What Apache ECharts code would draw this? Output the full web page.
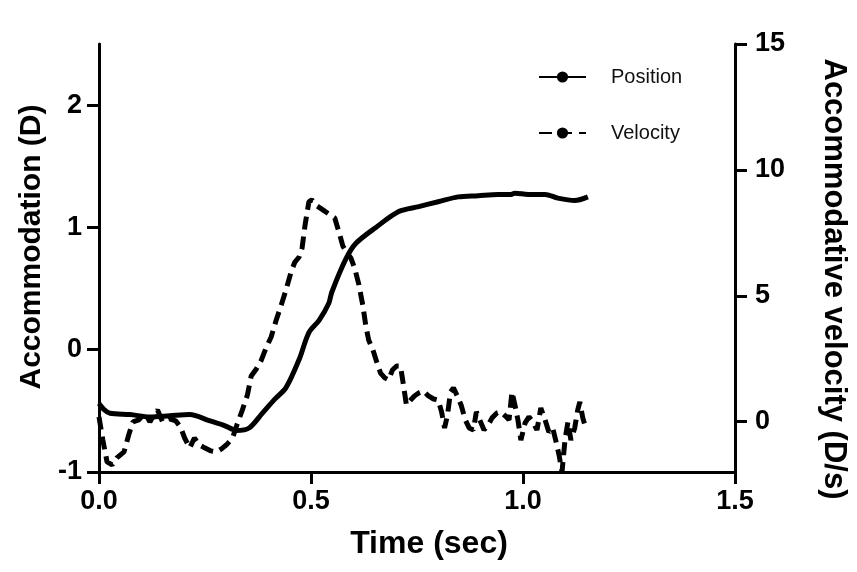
<!DOCTYPE html>
<html>
<head>
<meta charset="utf-8">
<script src="https://cdn.jsdelivr.net/npm/echarts@6/dist/echarts.min.js"></script>
<style>
html,body{margin:0;padding:0;background:#fff;}
#chart{width:857px;height:572px;}
</style>
</head>
<body>
<div id="chart"></div>
<script>
// ---- data ----
var posTime = [0, 0.012, 0.026, 0.073, 0.12, 0.167, 0.214, 0.26, 0.296, 0.324, 0.354, 0.385, 0.413, 0.441, 0.472, 0.495, 0.519, 0.542, 0.549, 0.582, 0.606, 0.653, 0.707, 0.754, 0.80, 0.847, 0.894, 0.941, 0.972, 0.981, 1.012, 1.052, 1.082, 1.122, 1.153];
var posValue = [-0.44, -0.49, -0.52, -0.53, -0.55, -0.54, -0.53, -0.58, -0.62, -0.66, -0.64, -0.52, -0.41, -0.31, -0.08, 0.14, 0.24, 0.38, 0.47, 0.74, 0.87, 1.00, 1.13, 1.17, 1.21, 1.25, 1.26, 1.27, 1.27, 1.28, 1.27, 1.27, 1.24, 1.22, 1.25];

var velTime = [0.000, 0.009, 0.019, 0.031, 0.042, 0.059, 0.070, 0.080, 0.094, 0.108, 0.120, 0.131, 0.138, 0.150, 0.167, 0.181, 0.192, 0.202, 0.214, 0.225, 0.237, 0.249, 0.263, 0.277, 0.289, 0.300, 0.315, 0.326, 0.338, 0.350, 0.359, 0.371, 0.383, 0.394, 0.406, 0.418, 0.430, 0.441, 0.453, 0.462, 0.472, 0.479, 0.486, 0.495, 0.502, 0.514, 0.528, 0.542, 0.556, 0.566, 0.575, 0.585, 0.594, 0.603, 0.613, 0.622, 0.629, 0.636, 0.646, 0.655, 0.664, 0.674, 0.683, 0.692, 0.702, 0.711, 0.718, 0.725, 0.735, 0.744, 0.754, 0.765, 0.777, 0.789, 0.800, 0.808, 0.815, 0.822, 0.829, 0.836, 0.845, 0.854, 0.864, 0.873, 0.883, 0.890, 0.899, 0.908, 0.918, 0.927, 0.939, 0.948, 0.958, 0.967, 0.974, 0.981, 0.988, 0.995, 1.005, 1.014, 1.023, 1.033, 1.042, 1.052, 1.061, 1.070, 1.077, 1.085, 1.092, 1.099, 1.106, 1.113, 1.122, 1.129, 1.134, 1.141, 1.148];
var velValue = [0.19, -0.73, -1.60, -1.72, -1.44, -1.20, -0.53, -0.01, 0.07, 0.35, -0.01, 0.31, 0.46, -0.01, 0.11, 0.03, -0.21, -0.65, -1.04, -0.65, -0.93, -1.04, -1.16, -1.20, -1.08, -0.93, -0.65, -0.09, 0.46, 1.06, 1.81, 2.09, 2.45, 2.93, 3.36, 4.04, 4.64, 5.23, 5.95, 6.34, 6.54, 6.90, 7.81, 8.73, 8.81, 8.57, 8.41, 8.25, 8.09, 7.53, 6.98, 6.70, 6.50, 6.10, 5.43, 4.64, 3.84, 3.24, 2.85, 2.37, 1.93, 1.74, 1.66, 2.05, 2.21, 2.21, 1.46, 0.66, 0.86, 1.02, 1.14, 1.22, 1.02, 0.90, 0.86, 0.39, -0.25, 0.27, 1.18, 1.34, 1.02, 0.66, 0.07, -0.25, -0.33, 0.39, 0.03, -0.33, -0.13, 0.15, 0.35, 0.39, 0.23, 0.07, 1.18, 0.66, 0.07, -0.73, -0.05, 0.19, -0.01, -0.33, 0.54, 0.07, -0.41, -0.25, -0.73, -1.32, -2.00, -0.73, -0.01, -0.73, -0.25, 0.46, 0.78, 0.15, -0.25];

var xTicks = [0, 0.5, 1.0, 1.5];
var leftTicks = [-1, 0, 1, 2];
var rightTicks = [0, 5, 10, 15];

var seriesNames = ['Position', 'Velocity'];
var xTitle = 'Time (sec)';
var leftTitle = 'Accommodation (D)';
var rightTitle = 'Accommodative velocity (D/s)';

// ---- build ----
function pairs(xs, ys) { return xs.map(function (x, i) { return [x, ys[i]]; }); }

var FONT = '"Liberation Sans", Arial, sans-serif';
var axisLine = { show: true, onZero: false, lineStyle: { color: '#000', width: 3 } };
var axisTick = { show: true, length: 12, lineStyle: { color: '#000', width: 3 } };

var chart = echarts.init(document.getElementById('chart'), null, { renderer: 'canvas' });
chart.setOption({
  animation: false,
  backgroundColor: '#fff',
  grid: { left: 99, right: 120, top: 44, bottom: 100, containLabel: false },
  legend: {
    orient: 'vertical',
    left: 533,
    top: 62,
    itemWidth: 47,
    itemHeight: 14,
    itemGap: 36,
    data: seriesNames,
    textStyle: { fontFamily: FONT, fontSize: 20, color: '#111', padding: [0, 0, 0, 20] }
  },
  xAxis: {
    type: 'value',
    min: 0, max: 1.5, interval: 0.5,
    name: xTitle,
    nameLocation: 'middle',
    nameGap: 56,
    nameTextStyle: { fontFamily: FONT, fontSize: 32, fontWeight: 'bold', color: '#000', padding: [0, 0, 0, 24] },
    axisLine: axisLine,
    axisTick: Object.assign({}, axisTick, { customValues: xTicks }),
    splitLine: { show: false },
    axisLabel: {
      customValues: xTicks,
      margin: 16,
      fontFamily: FONT, fontSize: 27, fontWeight: 'bold', color: '#000',
      formatter: function (v) { return v.toFixed(1); }
    }
  },
  yAxis: [
    {
      type: 'value', position: 'left',
      min: -1, max: 2.5,
      name: leftTitle,
      nameLocation: 'middle',
      nameRotate: 90,
      nameGap: 50,
      nameTextStyle: { fontFamily: FONT, fontSize: 30, fontWeight: 'bold', color: '#000', padding: [0, 0, 0, 22] },
      axisLine: axisLine,
      axisTick: Object.assign({}, axisTick, { customValues: leftTicks }),
      splitLine: { show: false },
      axisLabel: {
        customValues: leftTicks,
        margin: 17,
        fontFamily: FONT, fontSize: 27, fontWeight: 'bold', color: '#000'
      }
    },
    {
      type: 'value', position: 'right',
      min: -2, max: 15,
      name: rightTitle,
      nameLocation: 'middle',
      nameRotate: -90,
      nameGap: 83,
      nameTextStyle: { fontFamily: FONT, fontSize: 31, fontWeight: 'bold', color: '#000', padding: [0, 0, 0, 42] },
      axisLine: axisLine,
      axisTick: Object.assign({}, axisTick, { customValues: rightTicks }),
      splitLine: { show: false },
      axisLabel: {
        customValues: rightTicks,
        margin: 20,
        fontFamily: FONT, fontSize: 27, fontWeight: 'bold', color: '#000'
      }
    }
  ],
  series: [
    {
      name: seriesNames[0],
      type: 'line',
      yAxisIndex: 0,
      data: pairs(posTime, posValue),
      symbol: 'none',
      smooth: 0.3,
      lineStyle: { color: '#000', width: 5, type: 'solid' },
      itemStyle: { color: '#000' }
    },
    {
      name: seriesNames[1],
      type: 'line',
      yAxisIndex: 1,
      data: pairs(velTime, velValue),
      symbol: 'none',
      lineStyle: { color: '#000', width: 5, type: [13, 7] },
      itemStyle: { color: '#000' }
    }
  ]
});
</script>
</body>
</html>
